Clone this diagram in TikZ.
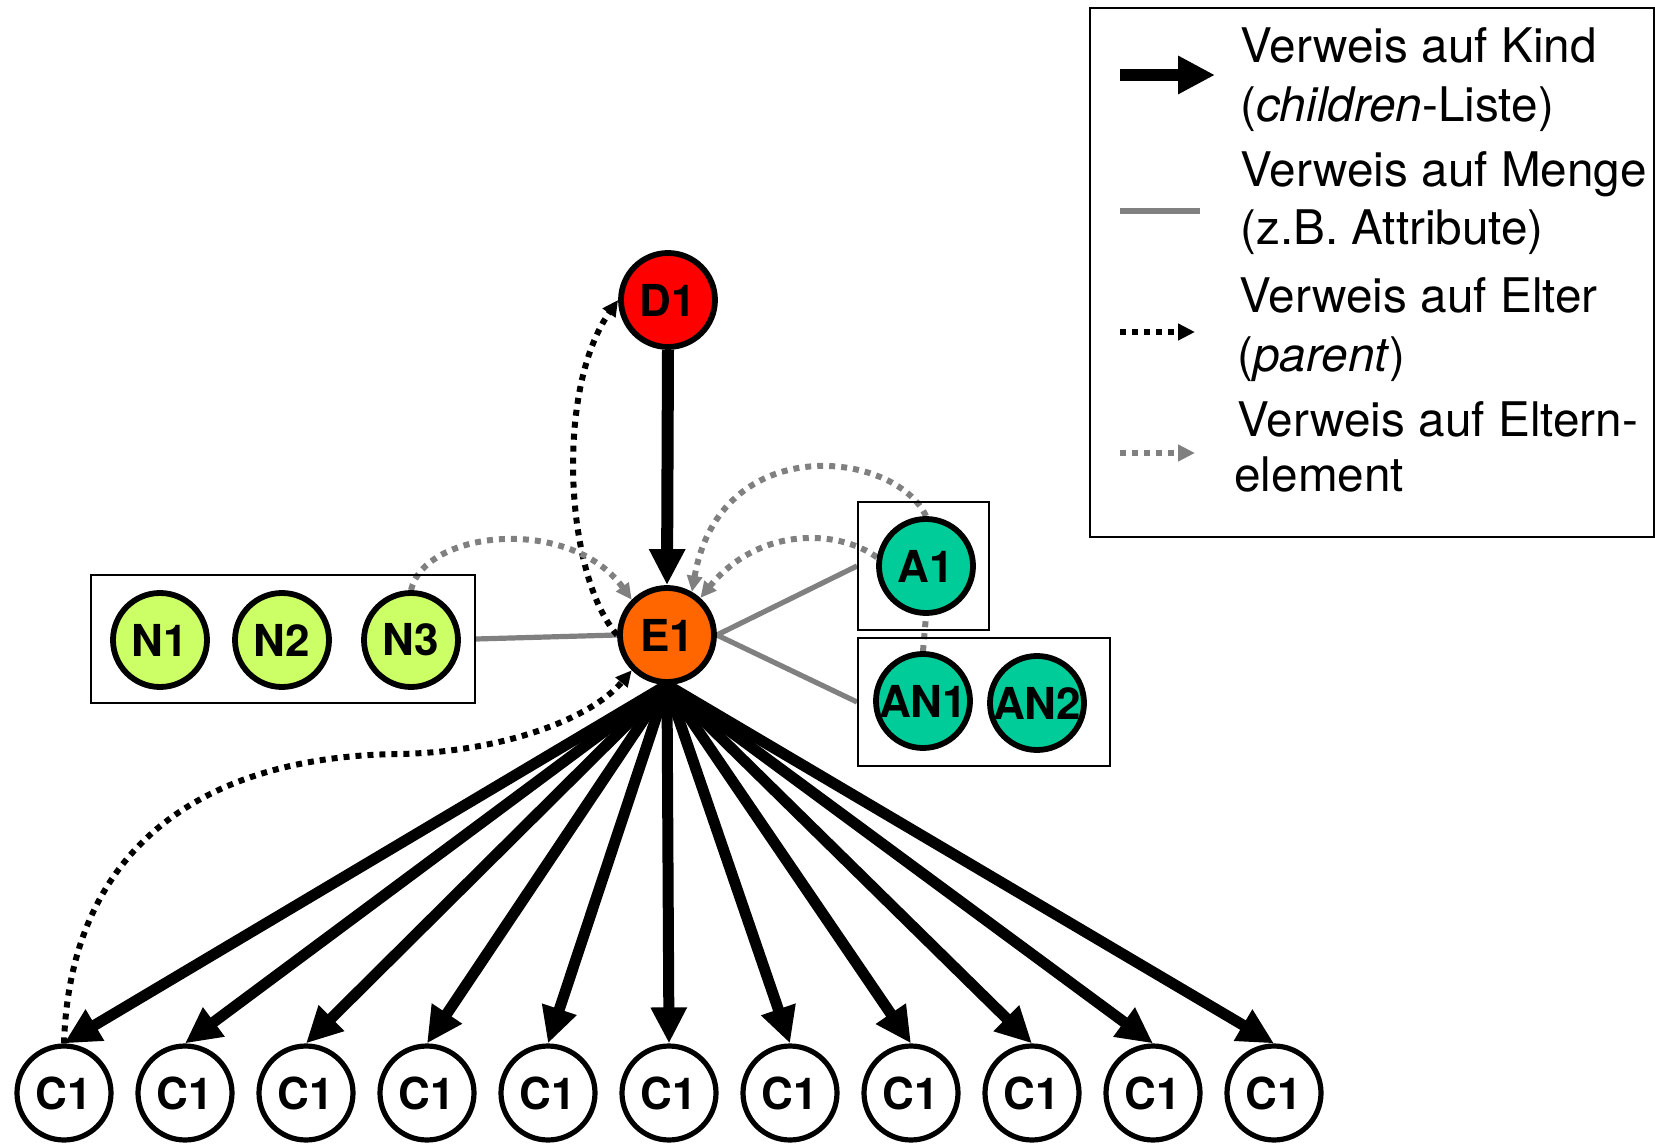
\documentclass[tikz,border=0pt]{standalone}
\usepackage{fontspec}
\setmainfont{TeX Gyre Heros}
\usetikzlibrary{arrows.meta,backgrounds}
\definecolor{dred}{HTML}{FF0000}
\definecolor{eorange}{HTML}{FF6600}
\definecolor{ngreen}{HTML}{CCFF66}
\definecolor{ateal}{HTML}{00CC99}
\definecolor{lgray}{HTML}{808080}
\begin{document}
\begin{tikzpicture}[x=0.5pt,y=-0.5pt,
  knot/.style={circle,draw=black,line width=2.9pt,minimum size=47pt,inner sep=0pt,
    font=\bfseries\fontsize{22}{22}\selectfont},
  grp/.style={draw=black,line width=1pt,inner sep=0pt},
  kid/.style={line width=5.5pt,-{Triangle[length=18pt,width=17pt]}},
  setref/.style={draw=lgray,line width=2.6pt},
  parref/.style={black,line width=3pt,dash pattern=on 3pt off 3pt,-{Triangle[length=8pt,width=7.5pt]}},
  elref/.style={lgray,line width=3pt,dash pattern=on 3pt off 3pt,-{Triangle[length=8pt,width=7.5pt]}},
  legtext/.style={anchor=base west,inner sep=0pt,font=\fontsize{23.85}{28}\selectfont}]
\useasboundingbox (0,0) rectangle (1655,1144);

% legend
\node[grp,minimum width=282pt,minimum height=264.5pt] (legend) at (1372,272.5) {};
\node[legtext] (t1) at (1240,63) {Verweis auf Kind};
\node[legtext] (t2) at (1240,122) {(\textit{children}-Liste)};
\node[legtext] (t3) at (1240,187) {Verweis auf Menge};
\node[legtext] (t4) at (1240,245) {(z.B. Attribute)};
\node[legtext] (t5) at (1239,313) {Verweis auf Elter};
\node[legtext] (t6) at (1237,372) {(\textit{parent})};
\node[legtext] (t7) at (1237,437) {Verweis auf Eltern-};
\node[legtext] (t8) at (1234,492) {element};
\coordinate (k1) at (1120,75);  \coordinate (k2) at (1215,75);
\coordinate (s1) at (1120,211); \coordinate (s2) at (1200,211);
\coordinate (p1) at (1120,332); \coordinate (p2) at (1195,332);
\coordinate (e1) at (1120,453); \coordinate (e2) at (1195,453);
\draw[kid,line width=6pt,-{Triangle[length=18.5pt,width=18pt]}] (k1) -- (k2);
\draw[setref] (s1) -- (s2);
\draw[parref,-{Triangle[length=8.5pt,width=8pt]}] (p1) -- (p2);
\draw[elref,-{Triangle[length=8.5pt,width=8pt]}] (e1) -- (e2);

% groups
\node[grp,minimum width=192pt,minimum height=64pt] (nbox) at (283,639) {};
\node[grp,minimum width=65.5pt,minimum height=64pt] (abox) at (923.5,566) {};
\node[grp,minimum width=126pt,minimum height=64pt] (anbox) at (984,702) {};

% nodes
\node[knot,fill=dred] (D1) at (668,300) {D1};
\node[knot,fill=eorange] (E1) at (667,635) {E1};
\node[knot,fill=ngreen] (N1) at (160,640) {N1};
\node[knot,fill=ngreen] (N2) at (282,640) {N2};
\node[knot,fill=ngreen] (N3) at (411,640) {N3};
\node[knot,fill=ateal] (A1) at (926,566) {A1};
\node[knot,fill=ateal] (AN1) at (923,701) {AN1};
\node[knot,fill=ateal] (AN2) at (1037,703) {AN2};
\foreach \i in {0,...,10}
  \node[knot,fill=white,line width=2.6pt] (c\i) at ({64+121*\i},1093) {C1};
\coordinate (m1) at (400,754);

% connectors
\begin{scope}[on background layer]
\draw[kid,line width=6pt] (D1.south) -- (E1.north);
\foreach \i in {0,...,10}
  \draw[kid] (E1.south) -- (c\i.north);
\draw[setref] (nbox.east) -- (E1.west);
\draw[setref] (E1.east) -- (abox.west);
\draw[setref] (E1.east) -- (anbox.west);
\draw[parref] (E1.west) .. controls (565,575) and (555,390) .. (D1.west);
\draw[parref] (c0.north) .. controls (70,850) and (200,756) .. (m1)
  .. controls (500,752) and (590,720) .. (E1.south west);
\draw[elref] (N3.north) .. controls (425,530) and (570,515) .. (E1.north west);
\draw[elref] (A1.north) .. controls (895,450) and (720,430) .. (E1.60);
\draw[elref] (A1.170) .. controls (840,530) and (760,525) .. (E1.48);
\draw[lgray,line width=3pt,dash pattern=on 3pt off 3pt] (AN1.north) -- (A1.south);
\end{scope}
\end{tikzpicture}
\end{document}
